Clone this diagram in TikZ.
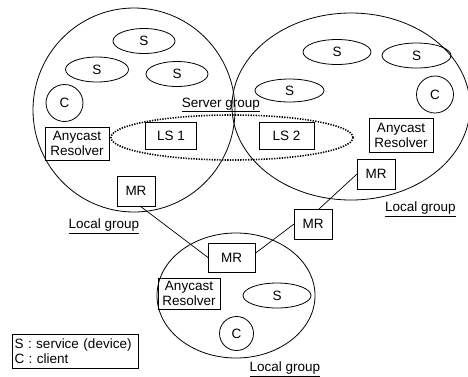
\documentclass[tikz,border=0pt]{standalone}
\usepackage{fontspec}
\setmainfont{Liberation Sans}
\usetikzlibrary{shapes.geometric}
\begin{document}
\begin{tikzpicture}[x=1pt,y=-1pt,
  font=\fontsize{13.5}{15}\selectfont,
  every node/.style={inner sep=0pt, outer sep=0pt},
  grp/.style={draw, ellipse, line width=0.8pt},
  svc/.style={draw, ellipse, line width=0.8pt, minimum height=25pt},
  cli/.style={draw, circle, line width=0.8pt, minimum size=37pt},
  box/.style={draw, rectangle, line width=0.8pt, align=center},
  resolver/.style={box, minimum width=64pt, minimum height=33pt},
  router/.style={box, minimum width=38pt, minimum height=30pt},
  lsbox/.style={box, minimum height=27pt},
  link/.style={line width=0.7pt},
  lsgroup/.style={draw, ellipse, line width=1.6pt, dash pattern=on 1.3pt off 1.3pt}]
\useasboundingbox (0,0) rectangle (468,376);

% local groups
\node[grp, minimum width=202pt, minimum height=204pt] (gl) at (134,110) {};
\node[grp, minimum width=238pt, minimum height=187pt] (gr) at (351,106.5) {};
\node[grp, minimum width=158pt, minimum height=125pt] (gb) at (236,295.5) {};

% server group
\node[lsgroup, minimum width=242pt, minimum height=45pt] (sg) at (232,137.5) {};
\node (sglabel) at (221,105) {\underline{Server group}};
\node[lsbox, minimum width=51pt] (ls1) at (171,135.5) {LS 1};
\node[lsbox, minimum width=55pt] (ls2) at (286.5,136) {LS 2};

% left local group
\node[svc, minimum width=62pt] (sl1) at (144,41) {S};
\node[svc, minimum width=63pt] (sl2) at (97,69.5) {S};
\node[svc, minimum width=62pt] (sl3) at (177,74) {S};
\node[cli] (cl) at (64.5,103) {C};
\node[resolver] (arl) at (77,143.5) {Anycast\\Resolver};
\node[router] (lmr) at (136,191) {MR};
\node (ll) at (104,226) {\underline{Local group}};

% right local group
\node[svc, minimum width=68pt] (sr1) at (337,52) {S};
\node[svc, minimum width=69pt] (sr2) at (416.5,55.5) {S};
\node[svc, minimum width=69pt, minimum height=23pt] (sr3) at (289.5,90.5) {S};
\node[cli] (cr) at (435,94.5) {C};
\node[resolver, minimum height=34pt] (arr) at (401,135) {Anycast\\Resolver};
\node[router] (rmr) at (376,174) {MR};
\node (lr) at (420.5,209) {\underline{Local group}};

% intermediate router
\node[router] (mmr) at (313,224) {MR};

% bottom local group
\node[box, minimum width=47pt, minimum height=29pt] (bmr) at (231.5,257.5) {MR};
\node[resolver, minimum width=62pt, minimum height=31pt] (arb) at (189,293.5) {Anycast\\Resolver};
\node[svc, minimum width=68pt] (sb) at (277,295.5) {S};
\node[cli, minimum size=34pt] (cb) at (236.5,333.5) {C};
\node (lb) at (285,369) {\underline{Local group}};

% links between routers
\draw[link] ([xshift=4pt]lmr.south) -- (bmr.west);
\draw[link] (rmr.west) -- ([xshift=6pt]mmr.north);
\draw[link] (mmr.west) -- ([yshift=4pt]bmr.east);

% legend
\node[box, text width=121pt, inner xsep=2.5pt, minimum height=34pt, align=left,
      font=\fontsize{13.5}{14.5}\selectfont] (legend) at (75,351)
  {S : service (device)\\C : client};
\end{tikzpicture}
\end{document}
